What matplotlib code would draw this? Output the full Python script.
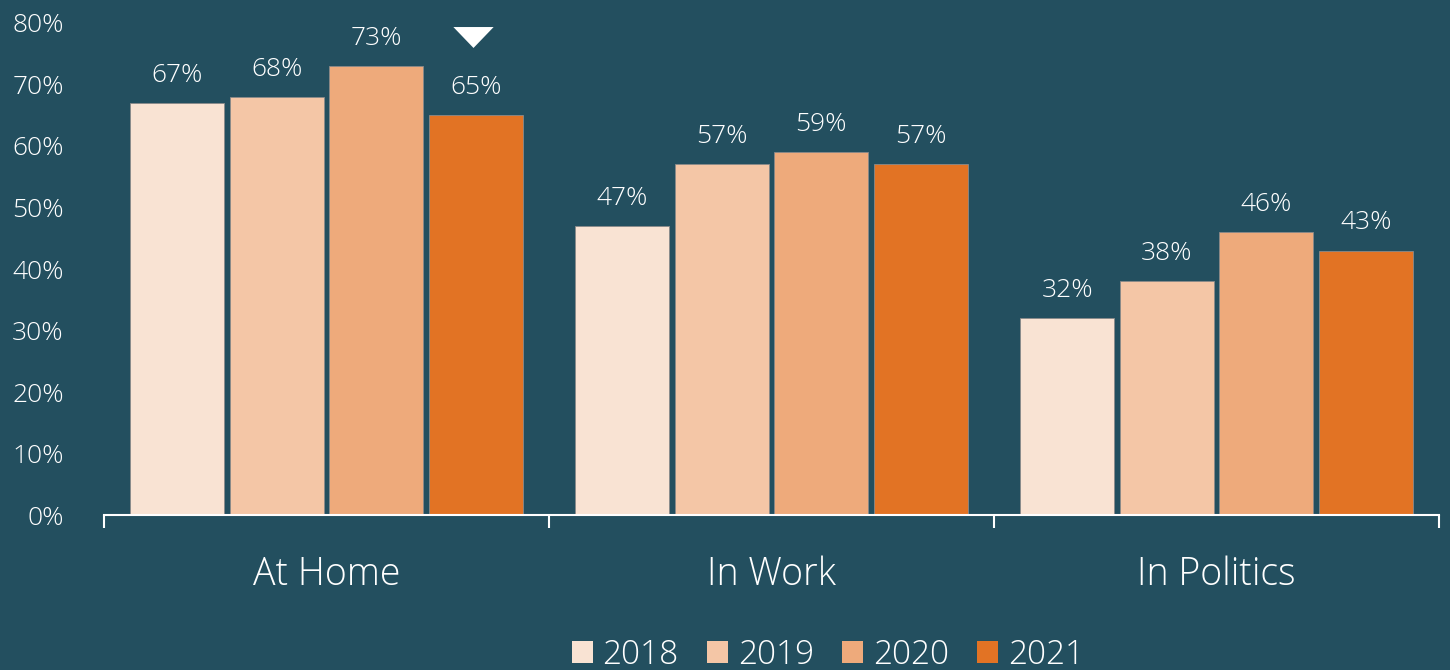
import matplotlib
matplotlib.use("Agg")
import matplotlib.pyplot as plt
import numpy as np
from matplotlib.patches import Patch

categories = ["At Home", "In Work", "In Politics"]
years = ["2018", "2019", "2020", "2021"]
values = {
    "2018": [67, 47, 32],
    "2019": [68, 57, 38],
    "2020": [73, 59, 46],
    "2021": [65, 57, 43],
}
colors = ["#F9E3D3", "#F4C6A6", "#EEAA7B", "#E27324"]
yticks = [0, 10, 20, 30, 40, 50, 60, 70, 80]
marker_category = "At Home"
marker_year = "2021"
marker_level = 77.7

bg = "#234F5F"
plt.rcParams['font.family'] = ['Open Sans', 'DejaVu Sans']
plt.rcParams['font.weight'] = 'light'

fig = plt.figure(figsize=(14.5, 6.7), dpi=100, facecolor=bg)
ax = fig.add_axes([0.0717, 0.2313, 0.9207, 0.7344])
ax.set_facecolor(bg)

tri = [(-1, 0.52), (1, 0.52), (0, -0.52), (-1, 0.52)]

n = len(years)
pitch = 0.2236
width = 0.211
x = np.arange(len(categories)) + 0.5
for i, (yr, c) in enumerate(zip(years, colors)):
    pos = x + (i - (n - 1) / 2) * pitch
    bars = ax.bar(pos, values[yr], width=width, color=c, edgecolor="#8a8a8a",
                  linewidth=0.6, label=yr, zorder=2)
    ax.bar_label(bars, labels=[f"{v}%" for v in values[yr]], padding=11,
                 color="white", fontsize=19)
    if yr == marker_year:
        ci = categories.index(marker_category)
        ax.plot(pos[ci] - 0.005, marker_level, marker=tri, markersize=29, color="white",
                clip_on=False, zorder=5, markeredgewidth=0)

ax.set_xlim(0, len(categories))
ax.set_ylim(0, 80)
ax.set_yticks(yticks)
ax.set_yticklabels([f"{t}%" for t in yticks], color="white", fontsize=19)
ax.tick_params(axis="y", length=0, pad=29)

ax.set_xticks(np.arange(len(categories) + 1))
ax.set_xticklabels([])
ax.tick_params(axis="x", which="major", length=9, width=1.5, color="white", direction="out")
ax.set_xticks(x, minor=True)
ax.set_xticklabels(categories, minor=True, color="white", fontsize=27)
ax.tick_params(axis="x", which="minor", length=0, pad=29)

for s in ["top", "right", "left"]:
    ax.spines[s].set_visible(False)
ax.spines["bottom"].set_color("white")
ax.spines["bottom"].set_linewidth(1.5)

handles = [Patch(facecolor=c, edgecolor="none") for c in colors]
leg = fig.legend(handles, years, loc="center", bbox_to_anchor=(0.571, 0.022),
                 ncol=4, frameon=False, fontsize=24, handlelength=0.62, handleheight=0.62,
                 handletextpad=0.3, columnspacing=0.85, labelcolor="white")

fig.savefig("out.png", dpi=100, facecolor=bg)
